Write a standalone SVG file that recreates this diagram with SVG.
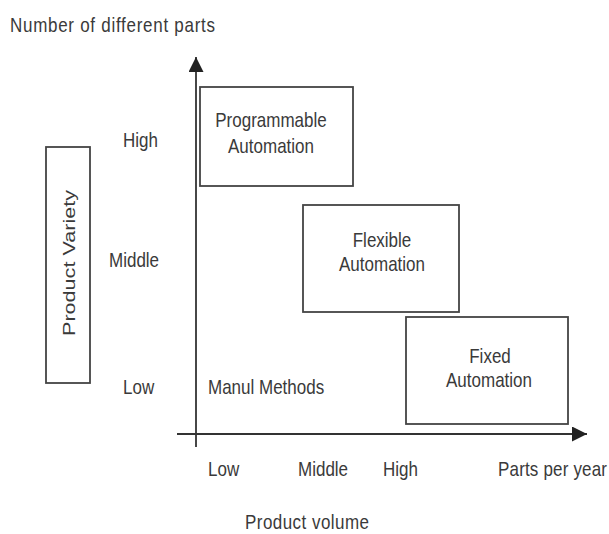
<svg xmlns="http://www.w3.org/2000/svg" width="609" height="534" viewBox="0 0 609 534">
<style>
  .t { font-family: "Liberation Sans", Arial, sans-serif; font-size: 17px; fill: #3a3a3a; }
  .m { text-anchor: middle; }
  .box { fill: none; stroke: #444; stroke-width: 1.8; }
  .ax { stroke: #333; stroke-width: 1.8; fill: none; }
</style>
<defs>
  <marker id="arrBig" viewBox="0 0 10 10" refX="10" refY="5" markerWidth="15" markerHeight="15" markerUnits="userSpaceOnUse" orient="auto">
    <path d="M0,0 L10,5 L0,10 z" fill="#222"/>
  </marker>
</defs>
<rect width="609" height="534" fill="#fff"/>

<g id="connectors">
  <line class="ax" x1="196" y1="447" x2="196" y2="57" marker-end="url(#arrBig)"/>
  <line class="ax" x1="177" y1="434" x2="587" y2="434" marker-end="url(#arrBig)"/>
</g>

<g id="y-axis-title">
  <text class="t" transform="translate(10,32) scale(1,1.22)" textLength="205" lengthAdjust="spacing">Number of different parts</text>
</g>
<g id="x-axis-title">
  <text class="t" transform="translate(245,529) scale(1,1.22)" textLength="124" lengthAdjust="spacing">Product volume</text>
</g>

<g id="product-variety">
  <rect class="box" x="46" y="147" width="44" height="236"/>
  <text class="t" transform="translate(75,336) rotate(-90)" textLength="146" lengthAdjust="spacingAndGlyphs">Product Variety</text>
</g>

<g id="y-labels">
  <text class="t" transform="translate(123,147) scale(1,1.22)">High</text>
  <text class="t" transform="translate(109,267) scale(1,1.22)">Middle</text>
  <text class="t" transform="translate(123,394) scale(1,1.22)">Low</text>
</g>

<g id="x-labels">
  <text class="t" transform="translate(208,476) scale(1,1.22)">Low</text>
  <text class="t" transform="translate(298,476) scale(1,1.22)">Middle</text>
  <text class="t" transform="translate(383,476) scale(1,1.22)">High</text>
  <text class="t" transform="translate(498,476) scale(1,1.22)" textLength="109" lengthAdjust="spacing">Parts per year</text>
</g>

<g id="programmable-automation">
  <rect class="box" x="200" y="87" width="153" height="99"/>
  <text class="t m" transform="translate(271,127) scale(1,1.22)">Programmable</text>
  <text class="t m" transform="translate(271,153) scale(1,1.22)">Automation</text>
</g>

<g id="flexible-automation">
  <rect class="box" x="303" y="205" width="156" height="107"/>
  <text class="t m" transform="translate(382,247) scale(1,1.22)">Flexible</text>
  <text class="t m" transform="translate(382,271) scale(1,1.22)">Automation</text>
</g>

<g id="fixed-automation">
  <rect class="box" x="406" y="317" width="162" height="107"/>
  <text class="t m" transform="translate(490,363) scale(1,1.22)">Fixed</text>
  <text class="t m" transform="translate(489,387) scale(1,1.22)">Automation</text>
</g>

<g id="manual-methods">
  <text class="t" transform="translate(208,394) scale(1,1.22)">Manul Methods</text>
</g>
</svg>
